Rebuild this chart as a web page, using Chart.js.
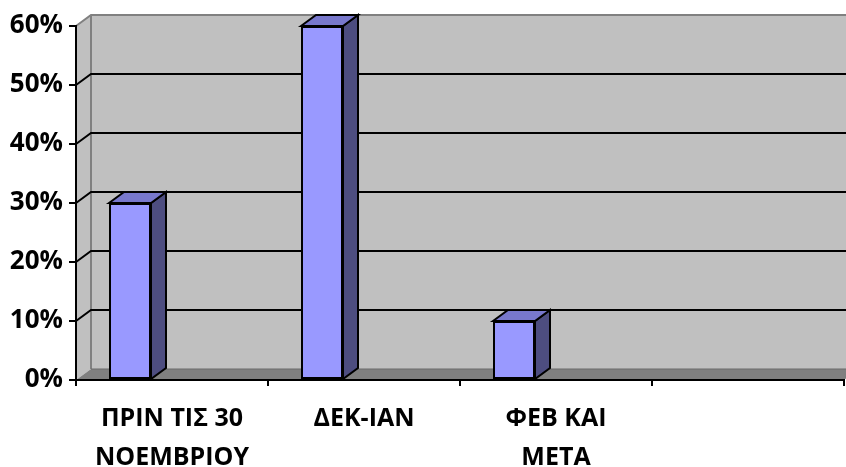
<!DOCTYPE html>
<html>
<head>
<meta charset="utf-8">
<script src="https://cdn.jsdelivr.net/npm/chart.js@4/dist/chart.umd.min.js"></script>
<style>
  html, body { margin: 0; padding: 0; background: #ffffff; }
  #wrap { width: 846px; height: 467px; }
</style>
</head>
<body>
<div id="wrap"><canvas id="c" width="846" height="467"></canvas></div>
<script>
// ---- data ----
const categories = [['ΠΡΙΝ ΤΙΣ 30', 'ΝΟΕΜΒΡΙΟΥ'], 'ΔΕΚ-ΙΑΝ', ['ΦΕΒ ΚΑΙ', 'ΜΕΤΑ'], ''];
const values = [0.30, 0.60, 0.10, null];
const yMin = 0;
const yMax = 0.6;
const yStep = 0.1;

// ---- 3D look ----
const DX = 15, DY = 11;
function poly(ctx, pts, fill, stroke, lw) {
  ctx.beginPath();
  ctx.moveTo(pts[0][0], pts[0][1]);
  for (let i = 1; i < pts.length; i++) ctx.lineTo(pts[i][0], pts[i][1]);
  ctx.closePath();
  if (fill) { ctx.fillStyle = fill; ctx.fill(); }
  if (stroke) { ctx.strokeStyle = stroke; ctx.lineWidth = lw || 1; ctx.stroke(); }
}

const threeD = {
  id: 'threeD',
  beforeDraw(chart) {
    const { ctx, chartArea: a, scales: { y } } = chart;
    ctx.save();
    ctx.fillStyle = '#ffffff';
    ctx.fillRect(0, 0, chart.width, chart.height);
    // back wall
    poly(ctx, [[a.left + DX, a.top - DY], [a.right + DX, a.top - DY], [a.right + DX, a.bottom - DY], [a.left + DX, a.bottom - DY]], '#C0C0C0');
    // side wall
    poly(ctx, [[a.left, a.top], [a.left + DX, a.top - DY], [a.left + DX, a.bottom - DY], [a.left, a.bottom]], '#C0C0C0');
    // floor
    poly(ctx, [[a.left, a.bottom], [a.left + DX, a.bottom - DY], [a.right + DX, a.bottom - DY], [a.right, a.bottom]], '#808080');
    // wall edges
    ctx.strokeStyle = '#808080';
    ctx.lineWidth = 2;
    ctx.beginPath();
    ctx.moveTo(a.left, a.top); ctx.lineTo(a.left + DX, a.top - DY); ctx.lineTo(a.right + DX, a.top - DY);
    ctx.moveTo(a.left + DX, a.top - DY); ctx.lineTo(a.left + DX, a.bottom - DY);
    ctx.stroke();
    ctx.strokeStyle = '#6b6b6b';
    ctx.lineWidth = 1;
    ctx.beginPath();
    ctx.moveTo(a.left + DX, a.bottom - DY); ctx.lineTo(a.right + DX, a.bottom - DY);
    ctx.stroke();
    // gridlines
    ctx.strokeStyle = '#000000';
    ctx.lineWidth = 2;
    y.ticks.forEach(t => {
      if (t.value <= yMin + 1e-9 || t.value >= yMax - 1e-9) return;
      const yy = y.getPixelForValue(t.value);
      ctx.beginPath();
      ctx.moveTo(a.left, yy);
      ctx.lineTo(a.left + DX, yy - DY);
      ctx.lineTo(a.right + DX, yy - DY);
      ctx.stroke();
    });
    ctx.restore();
  },
  afterDatasetsDraw(chart) {
    const { ctx } = chart;
    const meta = chart.getDatasetMeta(0);
    ctx.save();
    ctx.lineJoin = 'miter';
    meta.data.forEach((bar, i) => {
      if (values[i] == null) return;
      const p = bar.getProps(['x', 'y', 'base', 'width'], true);
      const l = p.x - p.width / 2, r = p.x + p.width / 2;
      const t = p.y, b = p.base;
      // side face
      poly(ctx, [[r, t], [r + DX, t - DY], [r + DX, b - DY], [r, b]], '#4D4D80', '#000000', 2);
      // top face
      poly(ctx, [[l, t], [l + DX, t - DY], [r + DX, t - DY], [r, t]], '#7878CC', '#000000', 2);
      // redraw front outline
      ctx.strokeStyle = '#000000';
      ctx.lineWidth = 2;
      ctx.strokeRect(l + 1, t + 1, p.width - 2, b - t - 2);
    });
    ctx.restore();
  }
};

new Chart(document.getElementById('c'), {
  type: 'bar',
  data: {
    labels: categories,
    datasets: [
      { data: values, backgroundColor: '#9999FF', borderColor: '#000000', borderWidth: 2, borderSkipped: false },
      { data: values.map(() => null) }
    ]
  },
  options: {
    responsive: false,
    animation: false,
    events: [],
    categoryPercentage: 0.875,
    barPercentage: 0.5,
    layout: { padding: { top: 26, right: 2, left: 0, bottom: 0 } },
    plugins: { legend: { display: false }, tooltip: { enabled: false } },
    scales: {
      y: {
        min: yMin, max: yMax,
        ticks: {
          stepSize: yStep,
          padding: 6,
          color: '#000000',
          font: { family: 'Open Sans', weight: 'bold', size: 26 },
          callback: v => Math.round(v * 100) + '%'
        },
        grid: { drawOnChartArea: false, drawTicks: true, tickLength: 7, color: '#000000', lineWidth: 2 },
        border: { display: true, color: '#000000', width: 2 },
        afterFit: s => { s.width = 76; }
      },
      x: {
        ticks: {
          padding: 13,
          color: '#000000',
          maxRotation: 0, minRotation: 0, autoSkip: false,
          font: { family: 'Open Sans', weight: 'bold', size: 25, lineHeight: 1.56 }
        },
        grid: { offset: true, drawOnChartArea: false, drawTicks: true, tickLength: 6, color: '#000000', lineWidth: 2 },
        border: { display: true, color: '#000000', width: 2 },
        afterFit: s => { s.height = 87; }
      }
    }
  },
  plugins: [threeD]
});
</script>
</body>
</html>
